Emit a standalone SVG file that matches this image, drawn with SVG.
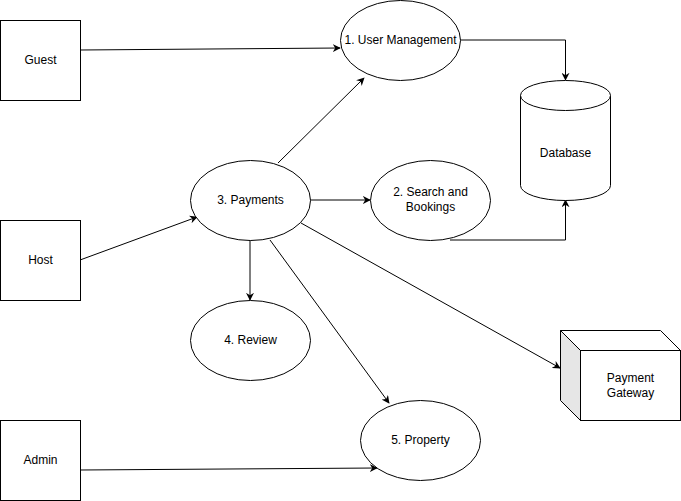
<svg xmlns="http://www.w3.org/2000/svg" width="681" height="501" viewBox="0 0 681 501">
  <style>
    .shape { fill: #ffffff; stroke: #000000; stroke-width: 1; }
    .side { fill: #e6e6e6; stroke: #000000; stroke-width: 1; }
    .edge { fill: none; stroke: #000000; stroke-width: 1; marker-end: url(#arrow); }
    text { font-family: "Liberation Sans", Arial, sans-serif; font-size: 12px; fill: #000000; text-anchor: middle; dominant-baseline: central; }
  </style>
  <defs>
    <marker id="arrow" viewBox="0 0 10 10" refX="9" refY="5" markerWidth="8" markerHeight="8" markerUnits="userSpaceOnUse" orient="auto">
      <path d="M0,0 L10,5 L0,10 L3,5 Z" fill="#000000"/>
    </marker>
  </defs>

  <!-- connectors -->
  <g id="edges">
    <path class="edge" d="M80,50 L340,48"/>
    <path class="edge" d="M460,40 L565.5,40 L565.5,80"/>
    <path class="edge" d="M450,240 L565.5,240 L565.5,200"/>
    <path class="edge" d="M278,163 L364,78"/>
    <path class="edge" d="M310,200 L370,200"/>
    <path class="edge" d="M80,260 L197,217"/>
    <path class="edge" d="M250,240 L250,300"/>
    <path class="edge" d="M270,240 L389,403"/>
    <path class="edge" d="M301,223 L560,368"/>
    <path class="edge" d="M80,470 L377,468"/>
  </g>

  <g id="guest">
    <rect class="shape" x="0.5" y="20.5" width="80" height="80"/>
    <text x="40.5" y="60">Guest</text>
  </g>
  <g id="host">
    <rect class="shape" x="0.5" y="220.5" width="80" height="80"/>
    <text x="40.5" y="260">Host</text>
  </g>
  <g id="admin">
    <rect class="shape" x="0.5" y="420.5" width="80" height="80"/>
    <text x="40.5" y="460">Admin</text>
  </g>

  <g id="user-management">
    <ellipse class="shape" cx="400.5" cy="40.5" rx="60" ry="40"/>
    <text x="400.5" y="40">1. User Management</text>
  </g>
  <g id="search-bookings">
    <ellipse class="shape" cx="430.5" cy="200.5" rx="60" ry="40"/>
    <text x="430.5" y="192">2. Search and</text>
    <text x="430.5" y="207">Bookings</text>
  </g>
  <g id="payments">
    <ellipse class="shape" cx="250.5" cy="200.5" rx="60" ry="40"/>
    <text x="250.5" y="200">3. Payments</text>
  </g>
  <g id="review">
    <ellipse class="shape" cx="250.5" cy="340.5" rx="60" ry="40"/>
    <text x="250.5" y="340">4. Review</text>
  </g>
  <g id="property">
    <ellipse class="shape" cx="420.5" cy="440.5" rx="60" ry="40"/>
    <text x="420.5" y="440">5. Property</text>
  </g>

  <g id="database">
    <path class="shape" d="M520.5,95.5 A45,15 0 0 1 610.5,95.5 L610.5,185.5 A45,15 0 0 1 520.5,185.5 Z"/>
    <path class="shape" d="M520.5,95.5 A45,15 0 0 0 610.5,95.5" fill="none"/>
    <text x="565.5" y="153">Database</text>
  </g>

  <g id="payment-gateway">
    <path class="shape" d="M560.5,330.5 L660.5,330.5 L680.5,350.5 L580.5,350.5 Z"/>
    <path class="side" d="M560.5,330.5 L580.5,350.5 L580.5,420.5 L560.5,400.5 Z"/>
    <rect class="shape" x="580.5" y="350.5" width="100" height="70"/>
    <text x="630.5" y="378">Payment</text>
    <text x="630.5" y="393">Gateway</text>
  </g>
</svg>
